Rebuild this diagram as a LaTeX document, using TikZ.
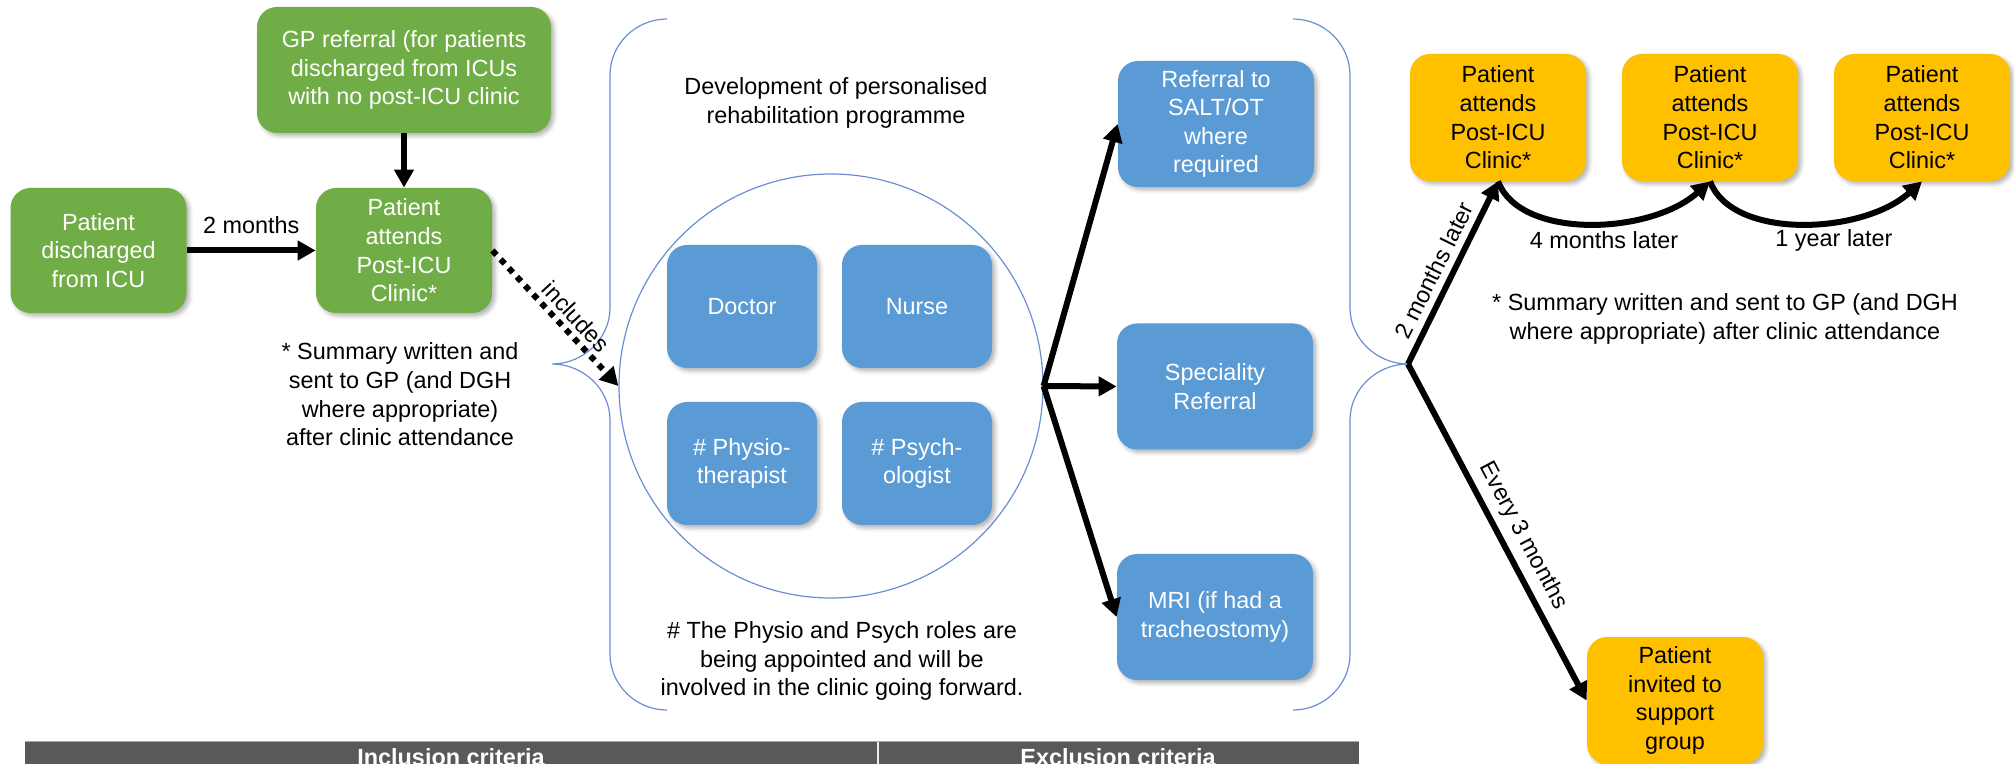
\documentclass[tikz,border=0pt]{standalone}
\usepackage{fontspec}
\setmainfont{Liberation Sans}
\usetikzlibrary{arrows.meta,shadows.blur}
\definecolor{boxgreen}{HTML}{70AD47}
\definecolor{boxblue}{HTML}{5B9BD5}
\definecolor{boxorange}{HTML}{FFC000}
\definecolor{bracecol}{HTML}{6A8ED4}
\definecolor{tablegray}{HTML}{595959}
\definecolor{tableline}{HTML}{8FAADC}

\begin{document}
\begin{tikzpicture}[x=0.5pt,y=-0.5pt,
  font=\fontsize{11.7}{14.3}\selectfont,
  card/.style={rounded corners=10pt, align=center, inner sep=0pt,
    blur shadow={shadow xshift=1.5pt, shadow yshift=-1.5pt,
      shadow opacity=30, shadow blur radius=2pt}},
  greencard/.style={card, fill=boxgreen, text=white,
    minimum width=88pt, minimum height=62.5pt},
  bluecard/.style={card, fill=boxblue, text=white,
    minimum width=98pt, minimum height=63pt},
  rolecard/.style={card, fill=boxblue, text=white,
    minimum width=75pt, minimum height=61.5pt},
  orangecard/.style={card, fill=boxorange, text=black,
    minimum width=88pt, minimum height=63.5pt},
  note/.style={align=center, inner sep=0pt},
  lbl/.style={inner sep=0pt},
  flow/.style={line width=3pt, -{Triangle[length=9pt,width=9.5pt]}},
  dotflow/.style={flow, dash pattern=on 3pt off 3pt},
  brace/.style={draw=bracecol, line width=0.6pt},
]
\clip (0,0) rectangle (2014,764);
\useasboundingbox (0,0) rectangle (2014,764);

% referral and first clinic visit
\node[greencard, minimum width=147pt, minimum height=63pt] (gp) at (404,70)
  {GP referral (for patients\\discharged from ICUs\\with no post-ICU clinic};
\node[greencard] (disch) at (98.5,250.5) {Patient\\discharged\\from ICU};
\node[greencard] (attend) at (404,250.5) {Patient\\attends\\Post-ICU\\Clinic*};
\node[note] (note1) at (400,394.5)
  {* Summary written and\\sent to GP (and DGH\\where appropriate)\\after clinic attendance};

\draw[flow] (gp) -- (attend);
\draw[flow] (disch) -- node[lbl, midway, yshift=12.5pt] {2 months} (attend);

% rehabilitation programme, framed by two large braces
\coordinate (lcusp) at (552,364);
\coordinate (rcusp) at (1408,364);
\draw[brace] (667,19) .. controls (636,19) and (610,44) .. (610,75)
  -- (610,308) .. controls (610,339) and (583,364) .. (lcusp)
  .. controls (583,364) and (610,389) .. (610,420)
  -- (610,654) .. controls (610,685) and (636,710) .. (667,710);
\draw[brace] (1293,19) .. controls (1324,19) and (1350,44) .. (1350,75)
  -- (1350,308) .. controls (1350,339) and (1377,364) .. (rcusp)
  .. controls (1377,364) and (1350,389) .. (1350,420)
  -- (1350,654) .. controls (1350,685) and (1324,710) .. (1293,710);

\node[note] (dev) at (836,103) {Development of personalised\\rehabilitation programme};
\node[draw=bracecol, line width=0.6pt, circle, minimum size=212pt, inner sep=0pt] (team) at (831,386) {};
\node[rolecard] (doctor) at (742,306.5) {Doctor};
\node[rolecard] (nurse) at (917,306.5) {Nurse};
\node[rolecard] (physio) at (742,463.5) {\# Physio-\\therapist};
\node[rolecard] (psych) at (917,463.5) {\# Psych-\\ologist};
\node[note] (rolesnote) at (842,661)
  {\# The Physio and Psych roles are\\being appointed and will be\\involved in the clinic going forward.};

\draw[dotflow] (attend.east) -- node[lbl, sloped, pos=0.57, yshift=8.2pt] {includes} (team.west);

\node[bluecard] (salt) at (1216,124) {Referral to\\SALT/OT\\where\\required};
\node[bluecard] (spec) at (1215,386.5) {Speciality\\Referral};
\node[bluecard] (mri) at (1215,617) {MRI (if had a\\tracheostomy)};

\draw[flow] (team.east) -- (salt.west);
\draw[flow] (team.east) -- (spec.west);
\draw[flow] (team.east) -- (mri.west);

% follow-up clinics
\node[orangecard] (clinicA) at (1498,117.5) {Patient\\attends\\Post-ICU\\Clinic*};
\node[orangecard] (clinicB) at (1710,117.5) {Patient\\attends\\Post-ICU\\Clinic*};
\node[orangecard] (clinicC) at (1922,117.5) {Patient\\attends\\Post-ICU\\Clinic*};
\node[orangecard] (support) at (1675,700.5) {Patient\\invited to\\support\\group};

\draw[flow] (rcusp) -- node[lbl, sloped, pos=0.47, yshift=9pt] {2 months later} (clinicA.south);
\draw[flow] (rcusp) -- node[lbl, sloped, pos=0.54, yshift=10.5pt] {Every 3 months} (support.west);
\draw[flow] (clinicA.south) .. controls (1520,240) and (1650,235) .. (clinicB.south)
  node[lbl] (lab4) at (1604,240) {4 months later};
\draw[flow] (clinicB.south) .. controls (1732,240) and (1862,235) .. (clinicC.south)
  node[lbl] (lab12) at (1834,240) {1 year later};

\node[note] (note2) at (1725,319)
  {* Summary written and sent to GP (and DGH\\where appropriate) after clinic attendance};

% criteria table header
\fill[tablegray] (25,742) rectangle (1359,780);
\draw[tableline, line width=0.8pt] (25,741.5) -- (1359,741.5);
\draw[gray!15, line width=1.4pt] (878,742) -- (878,780);
\node[lbl, anchor=base, text=white, font=\fontsize{11.7}{14.3}\selectfont\bfseries] (incl) at (451,765) {Inclusion criteria};
\node[lbl, anchor=base, text=white, font=\fontsize{11.7}{14.3}\selectfont\bfseries] (excl) at (1118,765) {Exclusion criteria};
\end{tikzpicture}
\end{document}
